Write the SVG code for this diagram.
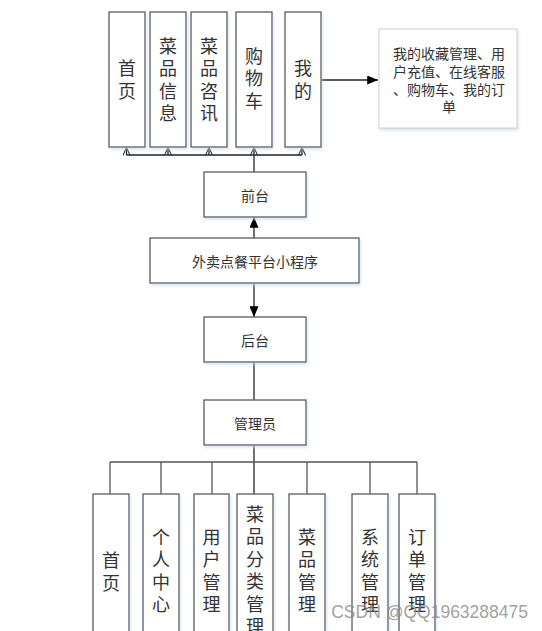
<svg xmlns="http://www.w3.org/2000/svg" width="542" height="631" viewBox="0 0 542 631">
<defs>
<style>
.box{fill:#fff;stroke:#5a5a5a;stroke-width:1.3;filter:url(#sh)}
.note{fill:#fff;stroke:#d0d0d0;stroke-width:1;filter:url(#sh)}
.ln{stroke:#222;stroke-width:1.3;fill:none}
.ln2{stroke:#555;stroke-width:1.3;fill:none}
.v{font-family:"Noto Sans CJK SC","Noto Sans",sans-serif;font-size:18px;fill:#333;text-anchor:middle;writing-mode:vertical-rl;letter-spacing:4.5px}
.t{font-family:"Noto Sans CJK SC","Noto Sans",sans-serif;font-size:14px;fill:#333;text-anchor:middle;dominant-baseline:central}
</style>
<filter id="sh" x="-20%" y="-20%" width="140%" height="140%">
<feDropShadow dx="1" dy="2" stdDeviation="1.5" flood-color="#c8d8ee" flood-opacity="0.7"/>
</filter>
<marker id="open" viewBox="0 0 10 10" refX="10" refY="5" markerWidth="8" markerHeight="8" markerUnits="userSpaceOnUse" orient="auto">
<path d="M0,0.5 L10,5 L0,9.5" fill="none" stroke="#333" stroke-width="1.3"/>
</marker>
<marker id="fill" viewBox="0 0 12 10" refX="12" refY="5" markerWidth="12" markerHeight="9" markerUnits="userSpaceOnUse" orient="auto">
<path d="M0,0 L12,5 L0,10 Z" fill="#000"/>
</marker>
</defs>

<g id="connectors">
<line class="ln" x1="126.5" y1="155" x2="302" y2="155"/>
<line class="ln" x1="126.5" y1="155" x2="126.5" y2="147.5" marker-end="url(#open)"/>
<line class="ln" x1="168" y1="155" x2="168" y2="147.5" marker-end="url(#open)"/>
<line class="ln" x1="209" y1="155" x2="209" y2="147.5" marker-end="url(#open)"/>
<line class="ln" x1="254" y1="172" x2="254" y2="147.5" marker-end="url(#open)"/>
<line class="ln" x1="302" y1="155" x2="302" y2="147.5" marker-end="url(#open)"/>
<line class="ln" x1="321" y1="80" x2="378" y2="80" marker-end="url(#fill)"/>
<line class="ln" x1="254" y1="238" x2="254" y2="217" marker-end="url(#fill)"/>
<line class="ln" x1="254" y1="283" x2="254" y2="317" marker-end="url(#fill)"/>
<line class="ln" x1="254" y1="362" x2="254" y2="400"/>
<line class="ln" x1="254" y1="445" x2="254" y2="494"/>
<line class="ln2" x1="110" y1="462" x2="417" y2="462"/>
<line class="ln2" x1="110" y1="462" x2="110" y2="494"/>
<line class="ln2" x1="161" y1="462" x2="161" y2="494"/>
<line class="ln2" x1="212" y1="462" x2="212" y2="494"/>
<line class="ln2" x1="307" y1="462" x2="307" y2="494"/>
<line class="ln2" x1="370" y1="462" x2="370" y2="494"/>
<line class="ln2" x1="417" y1="462" x2="417" y2="494"/>
</g>

<g id="n-home"><rect class="box" x="109" y="12" width="36" height="135"/>
<text class="v" x="127" y="82">首页</text></g>
<g id="n-dishinfo"><rect class="box" x="150" y="12" width="36" height="135"/>
<text class="v" x="168" y="82">菜品信息</text></g>
<g id="n-dishnews"><rect class="box" x="191" y="12" width="36" height="135"/>
<text class="v" x="209" y="82">菜品咨讯</text></g>
<g id="n-cart"><rect class="box" x="236" y="12" width="36" height="135"/>
<text class="v" x="254" y="80.5">购物车</text></g>
<g id="n-mine"><rect class="box" x="285" y="12" width="36" height="135"/>
<text class="v" x="303" y="82">我的</text></g>

<g id="n-note"><rect class="note" x="379" y="29" width="138" height="99"/>
<text class="t" x="449" y="53">我的收藏管理、用<tspan x="449" dy="18">户充值、在线客服</tspan><tspan x="449" dy="17.5">、购物车、我的订</tspan><tspan x="449" dy="17.5">单</tspan></text></g>

<g id="n-front"><rect class="box" x="204" y="172" width="102" height="45"/>
<text class="t" x="255" y="194.5">前台</text></g>
<g id="n-app"><rect class="box" x="150" y="238" width="209" height="45"/>
<text class="t" x="255" y="261">外卖点餐平台小程序</text></g>
<g id="n-back"><rect class="box" x="204" y="317" width="102" height="45"/>
<text class="t" x="255" y="340">后台</text></g>
<g id="n-admin"><rect class="box" x="204" y="400" width="102" height="45"/>
<text class="t" x="255" y="422.5">管理员</text></g>

<g id="a-home"><rect class="box" x="93" y="494" width="36" height="160"/>
<text class="v" x="111" y="574">首页</text></g>
<g id="a-center"><rect class="box" x="143" y="494" width="36" height="160"/>
<text class="v" x="161" y="573">个人中心</text></g>
<g id="a-user"><rect class="box" x="194" y="494" width="35" height="160"/>
<text class="v" x="211.5" y="573">用户管理</text></g>
<g id="a-cat"><rect class="box" x="237" y="494" width="36" height="160"/>
<text class="v" x="255" y="572.5">菜品分类管理</text></g>
<g id="a-dish"><rect class="box" x="289" y="494" width="36" height="160"/>
<text class="v" x="307" y="573">菜品管理</text></g>
<g id="a-sys"><rect class="box" x="352" y="494" width="36" height="160"/>
<text class="v" x="370" y="573">系统管理</text></g>
<g id="a-order"><rect class="box" x="399" y="494" width="36" height="160"/>
<text class="v" x="417" y="573">订单管理</text></g>

<text x="528" y="618" style="font-family:'Liberation Sans',Arial,sans-serif;font-size:17.5px;fill:#888;fill-opacity:0.8;text-anchor:end">CSDN @QQ1963288475</text>
</svg>
